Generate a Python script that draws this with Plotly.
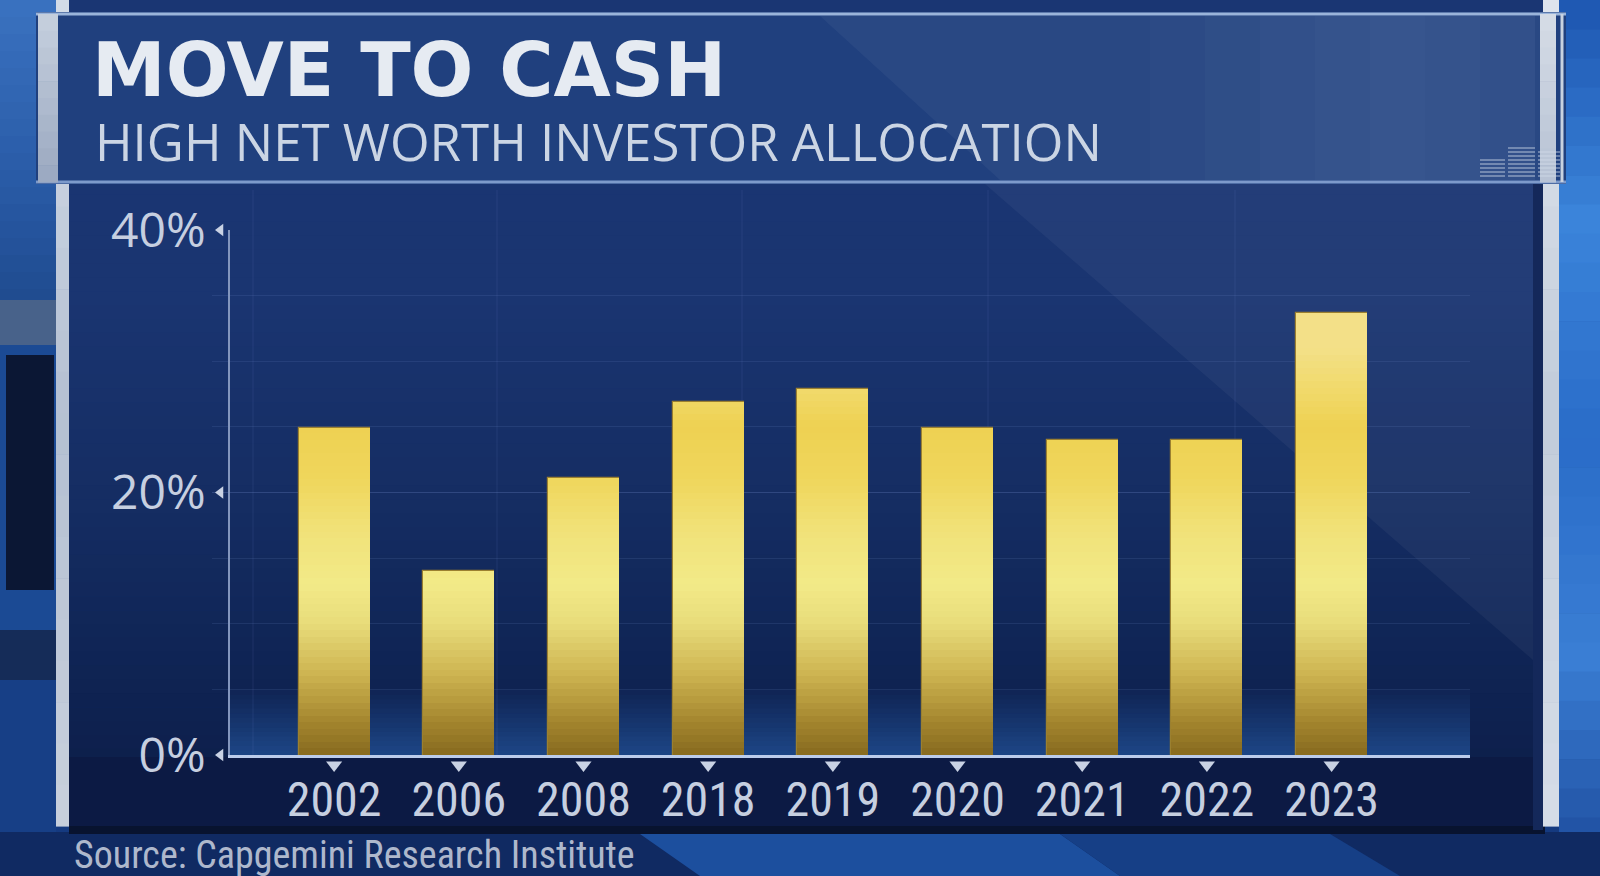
import numpy as np
import plotly.graph_objects as go

# ---------------- data ----------------
years = ["2002", "2006", "2008", "2018", "2019", "2020", "2021", "2022", "2023"]
cash_share = [24.9, 14.0, 21.1, 26.9, 27.9, 24.9, 24.0, 24.0, 33.7]
y_tick_values = [0, 20, 40]
y_tick_labels = ["0%", "20%", "40%"]

title_text = "MOVE TO CASH"
subtitle_text = "HIGH NET WORTH INVESTOR ALLOCATION"
source_text = "Source: Capgemini Research Institute"

W, H = 1600, 876
X_RANGE = [-0.835, 9.11]
Y_RANGE = [0, 40]

shapes = []


def rect(x0, y0, x1, y1, color, layer="below"):
    shapes.append(dict(type="rect", xref="paper", yref="paper",
                       x0=x0 / W, x1=x1 / W, y0=1 - y1 / H, y1=1 - y0 / H,
                       fillcolor=color, line_width=0, layer=layer))


def hline(x0, x1, y, color, width=1, layer="below"):
    shapes.append(dict(type="line", xref="paper", yref="paper",
                       x0=x0 / W, x1=x1 / W, y0=1 - y / H, y1=1 - y / H,
                       line=dict(color=color, width=width), layer=layer))


def vline(x, y0, y1, color, width=1, layer="below"):
    shapes.append(dict(type="line", xref="paper", yref="paper",
                       x0=x / W, x1=x / W, y0=1 - y1 / H, y1=1 - y0 / H,
                       line=dict(color=color, width=width), layer=layer))


def poly(pts, color, layer="below"):
    p = "M " + " L ".join(f"{x / W},{1 - y / H}" for x, y in pts) + " Z"
    shapes.append(dict(type="path", xref="paper", yref="paper", path=p,
                       fillcolor=color, line_width=0, layer=layer))


def hexrgb(h):
    h = h.lstrip("#")
    return np.array([int(h[i:i + 2], 16) for i in (0, 2, 4)], float)


def lerp_color(stops, t):
    pos = [s[0] for s in stops]
    cols = [hexrgb(s[1]) for s in stops]
    for i in range(len(pos) - 1):
        if pos[i] <= t <= pos[i + 1]:
            f = (t - pos[i]) / (pos[i + 1] - pos[i])
            c = cols[i] * (1 - f) + cols[i + 1] * f
            return "rgb(%d,%d,%d)" % tuple(c.round())
    c = cols[-1] if t > pos[-1] else cols[0]
    return "rgb(%d,%d,%d)" % tuple(c.round())


def vgrad(x0, y0, x1, y1, stops, n=40):
    step = (y1 - y0) / n
    for i in range(n):
        t = (i + 0.5) / n
        rect(x0, y0 + i * step, x1, y0 + (i + 1) * step + 0.6, lerp_color(stops, t))


# ---------------- studio background ----------------
rect(0, 0, 56, H, "#1b4a94")
vgrad(0, 0, 56, 340, [(0, "#3a72c0"), (0.5, "#2a5ca8"), (1, "#1c4688")], n=20)
rect(0, 300, 56, 345, "#48628a")
rect(6, 355, 54, 590, "#0b1734")
rect(0, 630, 56, 680, "#152c58")
rect(0, 680, 56, H, "#173f86")
vgrad(1559, 0, W, 876, [(0, "#1d56b0"), (0.25, "#3b84da"), (0.5, "#2a6cc8"),
                        (0.75, "#3a7ed4"), (1, "#1c4a9a")], n=30)
rect(0, 832, W, H, "#102a62")
poly([(640, 834), (1060, 834), (1120, H), (700, H)], "#1c4f9e")
poly([(1060, 834), (1330, 834), (1400, H), (1120, H)], "#163f86")

# ---------------- main panel ----------------
vgrad(69, 0, 1543, 832, [(0, "#1a3673"), (0.35, "#1a3571"), (0.6, "#152d63"),
                         (0.8, "#0f2454"), (1, "#0c1c46")], n=60)
vgrad(230, 690, 1470, 755, [(0, "#0f2454"), (1, "#1d4686")], n=14)
poly([(985, 184), (1533, 184), (1533, 660)], "rgba(255,255,255,0.045)")
rect(69, 757, 1533, 826, "#0c1a44")
rect(69, 826, 1545, 834, "#08132f")
rect(1533, 184, 1543, 830, "#14285a")
vgrad(56, 0, 69, 826, [(0, "#d4dce8"), (0.5, "#b4c0d2"), (1, "#c8d0dc")], n=20)
vgrad(1543, 0, 1559, 826, [(0, "#dfe5ee"), (0.5, "#c2ccda"), (1, "#d6dde8")], n=20)

for gx in [253, 497, 742, 988, 1235]:
    vline(gx, 190, 755, "rgba(120,150,215,0.13)")

# ---------------- title banner ----------------
rect(36, 12, 1566, 184, "#20407e")
poly([(820, 16), (1540, 16), (1540, 180), (1000, 180)], "rgba(255,255,255,0.045)")
for i, a in enumerate([0.02, 0.04, 0.06, 0.08, 0.09, 0.08, 0.06]):
    rect(1150 + i * 55, 16, 1205 + i * 55, 180, f"rgba(200,220,255,{a})")
hline(36, 1566, 14, "#9ab4da", 3)
hline(36, 1566, 182, "#7d9acb", 3)
vgrad(38, 14, 58, 182, [(0, "#c6d0de"), (1, "#9aa8c0")], n=10)
vgrad(1540, 14, 1556, 182, [(0, "#d6dce6"), (1, "#b6c2d4")], n=10)
vline(1562, 14, 182, "#c8d2e0", 3)
for k, (gx0, gx1) in enumerate([(1480, 1505), (1508, 1535), (1538, 1560)]):
    n_lines = [5, 8, 7][k]
    for j in range(n_lines):
        hline(gx0, gx1, 176 - j * 4, "rgba(210,220,235,0.55)", 1.5)

# ---------------- bars (screen-space gold gradient) ----------------
gold_stops = [
    (0.0, "#876a1f"), (2.5, "#a3852e"), (6.0, "#ccb24f"), (10.0, "#e8dc7a"),
    (13.0, "#f2ea88"), (17.0, "#f1e279"), (21.0, "#efd65c"), (25.0, "#eed152"),
    (28.0, "#f1da6c"), (31.0, "#f3e088"), (40.0, "#f3df86"),
]
vals = np.array(cash_share)
step = 0.5
levels = np.arange(Y_RANGE[1], 0, -step)

fig = go.Figure()
for i, L in enumerate(levels):
    fig.add_trace(go.Bar(
        x=years, y=np.minimum(vals, L), width=0.57,
        marker=dict(color=lerp_color(gold_stops, L - step / 2),
                    line=dict(width=1.2 if i == 0 else 0, color="#9b8030")),
        hoverinfo="skip", showlegend=False,
    ))

# x tick triangles on a thin helper subplot just below the baseline
fig.add_trace(go.Scatter(
    x=list(range(len(years))), y=[0.5] * len(years), xaxis="x3", yaxis="y3",
    mode="markers", marker=dict(symbol="triangle-down", size=14, color="#c9d2e4"),
    hoverinfo="skip", showlegend=False))
# y tick triangles on a thin helper x-axis just left of the y axis
fig.add_trace(go.Scatter(
    x=[0.5] * len(y_tick_values), y=y_tick_values, xaxis="x4", yaxis="y",
    mode="markers", marker=dict(symbol="triangle-left", size=11, color="#c9d2e4"),
    cliponaxis=False, hoverinfo="skip", showlegend=False))

annotations = [
    dict(text=title_text, xref="paper", yref="paper", x=90 / W, y=1 - 70 / H,
         xanchor="left", yanchor="middle", showarrow=False,
         font=dict(family="DejaVu Sans", size=74, color="#e6ebf2", weight="bold")),
    dict(text=subtitle_text, xref="paper", yref="paper", x=93 / W, y=1 - 141 / H,
         xanchor="left", yanchor="middle", showarrow=False,
         font=dict(family="Open Sans", size=51, color="#cbd5e4")),
    dict(text=source_text, xref="paper", yref="paper", x=72 / W, y=1 - 855 / H,
         xanchor="left", yanchor="middle", showarrow=False,
         font=dict(family="Liberation Sans Narrow, Roboto Condensed, Open Sans",
                   size=38, color="#aeb8cc")),
]

fig.update_layout(
    width=W, height=H,
    margin=dict(l=0, r=0, t=0, b=0, autoexpand=False),
    paper_bgcolor="#153a80", plot_bgcolor="rgba(0,0,0,0)",
    barmode="overlay", bargap=0,
    shapes=shapes, annotations=annotations,
    xaxis=dict(type="category", range=X_RANGE, domain=[230 / W, 1470 / W],
               automargin=False,
               showgrid=False, zeroline=False, showline=True,
               linecolor="#bccdec", linewidth=3, ticks="",
               tickfont=dict(family="Liberation Sans Narrow, Roboto Condensed, Roboto",
                             size=48, color="#c6cfe0"),
               ticklabelstandoff=0, fixedrange=True),
    yaxis=dict(range=Y_RANGE, domain=[1 - 755 / H, 1 - 230 / H], automargin=False,
               tickvals=y_tick_values, ticktext=y_tick_labels,
               showgrid=True, gridcolor="rgba(120,150,215,0.14)", gridwidth=1,
               minor=dict(dtick=5, tick0=0, showgrid=True,
                          gridcolor="rgba(120,150,215,0.14)", gridwidth=1),
               zeroline=False, showline=True, linecolor="#8396bd", linewidth=1.5,
               ticks="", ticklabelstandoff=13,
               tickfont=dict(family="Open Sans", size=48, color="#c6cfe0"),
               fixedrange=True),
    xaxis3=dict(type="linear", range=X_RANGE, domain=[230 / W, 1470 / W],
                anchor="y3", visible=False, fixedrange=True, automargin=False),
    yaxis3=dict(type="linear", range=[0, 1], domain=[1 - 773 / H, 1 - 757 / H],
                anchor="x3", visible=False, fixedrange=True, automargin=False),
    xaxis4=dict(type="linear", range=[0, 1], domain=[212 / W, 229 / W],
                anchor="y", visible=False, fixedrange=True, automargin=False),
)

fig.write_html("out.html",
               config={"displayModeBar": False},
               post_script="document.body.style.margin='0';"
                           "document.body.style.overflow='hidden';")
